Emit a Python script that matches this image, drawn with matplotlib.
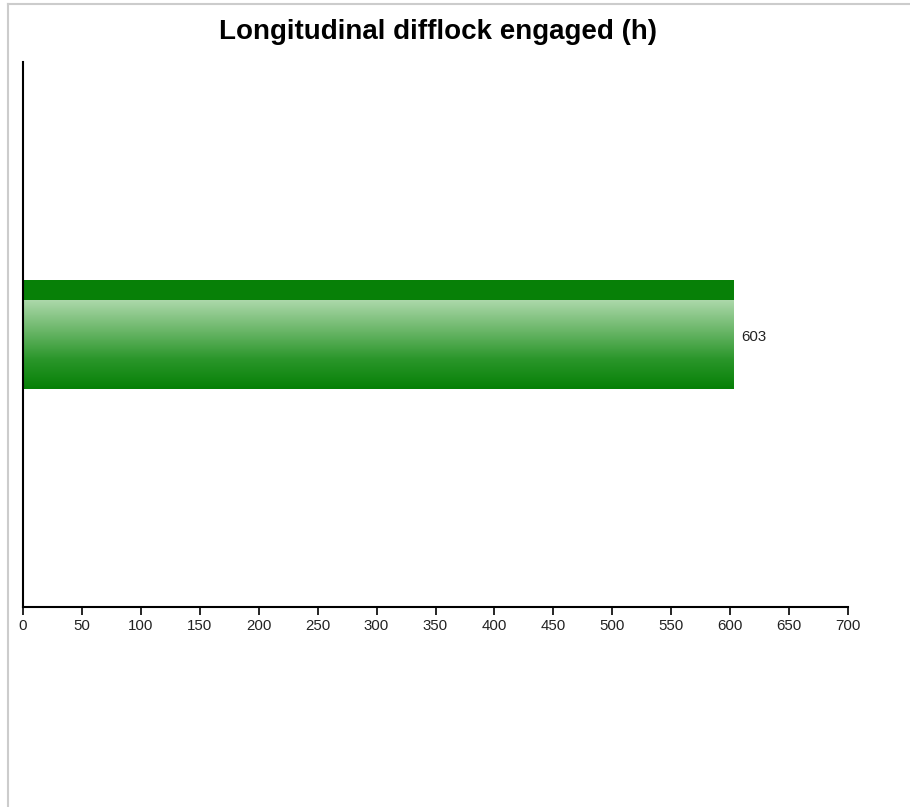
import matplotlib
matplotlib.use("Agg")
import matplotlib.pyplot as plt
import numpy as np
from matplotlib.colors import LinearSegmentedColormap
from matplotlib.lines import Line2D

plt.rcParams['font.family'] = ['Liberation Sans', 'DejaVu Sans']

title = "Longitudinal difflock engaged (h)"
categories = ["Longitudinal difflock engaged"]
values = [603]
x_ticks = [0, 50, 100, 150, 200, 250, 300, 350, 400, 450, 500, 550, 600, 650, 700]

W, H = 910, 807
fig = plt.figure(figsize=(W / 100, H / 100), dpi=100)
fig.patch.set_facecolor("white")

# light grey frame (left and top)
fig.add_artist(Line2D([8 / W, 8 / W], [0, 1 - 4 / H], color="#cccccc", lw=1.5, transform=fig.transFigure))
fig.add_artist(Line2D([8 / W, 1], [1 - 4 / H, 1 - 4 / H], color="#cccccc", lw=1.5, transform=fig.transFigure))

ax_left, ax_right = 23 / W, 848 / W
ax_top, ax_bottom = 62 / H, 607 / H
ax = fig.add_axes([ax_left, 1 - ax_bottom, ax_right - ax_left, ax_bottom - ax_top])

ax.set_xlim(0, 700)
ax.set_ylim(-0.5, 0.5)

bar_h = 0.2
bars = ax.barh([0], values, height=bar_h, color="none", edgecolor="none")

light = LinearSegmentedColormap.from_list("g", ["#068006", "#2a962a", "#6cb76a", "#acd8aa"])
for rect, v in zip(bars, values):
    x0 = rect.get_x()
    y0 = rect.get_y()
    h = rect.get_height()
    w = rect.get_width()
    band = h * 0.19
    # dark top band
    ax.add_patch(plt.Rectangle((x0, y0 + h - band), w, band, color="#078007", lw=0, zorder=2))
    # gradient body (light at top, dark at bottom)
    grad = np.linspace(0, 1, 256).reshape(-1, 1)
    ax.imshow(grad, cmap=light, aspect="auto", origin="lower",
              extent=(x0, x0 + w, y0, y0 + h - band), zorder=2, interpolation="bilinear")
    ax.text(x0 + w + 6, y0 + h / 2 - 0.004, f"{v}", va="center", ha="left", fontsize=10.8, color="#222222")

ax.set_xlim(0, 700)
ax.set_ylim(-0.5, 0.5)
ax.set_xticks(x_ticks)
ax.set_xticklabels([str(t) for t in x_ticks], fontsize=10.8, color="#222222")
ax.set_yticks([])
for s in ["top", "right"]:
    ax.spines[s].set_visible(False)
ax.spines["left"].set_linewidth(1.5)
ax.spines["bottom"].set_linewidth(1.5)
ax.tick_params(axis="x", length=6, width=1.2, pad=3)

fig.text(438 / W, 1 - 32 / H, title, ha="center", va="center", fontsize=20, fontweight="bold")

fig.savefig("out.png", dpi=100, facecolor="white")
